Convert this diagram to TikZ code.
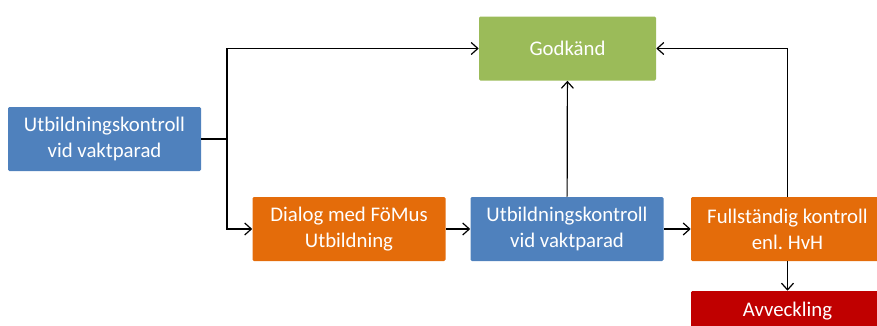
\documentclass[tikz,border=0pt]{standalone}
\usepackage{fontspec}
\setmainfont{Carlito}
\usetikzlibrary{arrows.meta}
\definecolor{boxblue}{HTML}{4F81BD}
\definecolor{boxgreen}{HTML}{9BBB59}
\definecolor{boxorange}{HTML}{E46C0A}
\definecolor{boxred}{HTML}{C00000}
\tikzset{
  flowbox/.style={fill=#1, draw=none, rounded corners=1pt, text=white, align=center,
    minimum width=144.75pt, minimum height=48pt, inner sep=0pt,
    font=\fontsize{15.6}{19.5}\selectfont},
  flowline/.style={line width=0.9pt, -{Straight Barb[length=5pt,width=9pt]}}
}
\begin{document}
\begin{tikzpicture}[x=0.75pt,y=0.75pt,yscale=-1,xscale=1]
    %set diagram left start at 0, and has height of 325
    \useasboundingbox (0,0) rectangle (877,325);

    % Boxes
    \node [flowbox=boxblue] (kontroll) at (104.5,139) {Utbildningskontroll\\vid vaktparad};
    \node [flowbox=boxgreen, minimum width=132.75pt] (godkand) at (567.5,48.5) {Godkänd};
    \node [flowbox=boxorange] (dialog) at (349,229) {Dialog med FöMus\\Utbildning};
    \node [flowbox=boxblue] (kontrollvakt) at (567,229) {Utbildningskontroll\\vid vaktparad};
    \node [flowbox=boxorange] (fullstandig) at (787.5,229) {Fullständig kontroll\\enl.\ HvH};
    \node [flowbox=boxred, minimum height=30pt] (avveckling) at (787.5,311) {Avveckling};

    % Split point
    \coordinate (split) at (227,139);

    % Connectors
    \draw [line width=0.9pt] (kontroll.east) -- (split);
    \draw [flowline] (split) |- (godkand.west);
    \draw [flowline] (split) |- (dialog.west);
    \draw [flowline] (dialog) -- (kontrollvakt);
    \draw [flowline] (kontrollvakt) -- (fullstandig);
    \draw [flowline] (kontrollvakt) -- (godkand);
    \draw [flowline] (fullstandig.north) |- (godkand.east);
    \draw [flowline] (fullstandig) -- (avveckling);

\end{tikzpicture}
\end{document}
